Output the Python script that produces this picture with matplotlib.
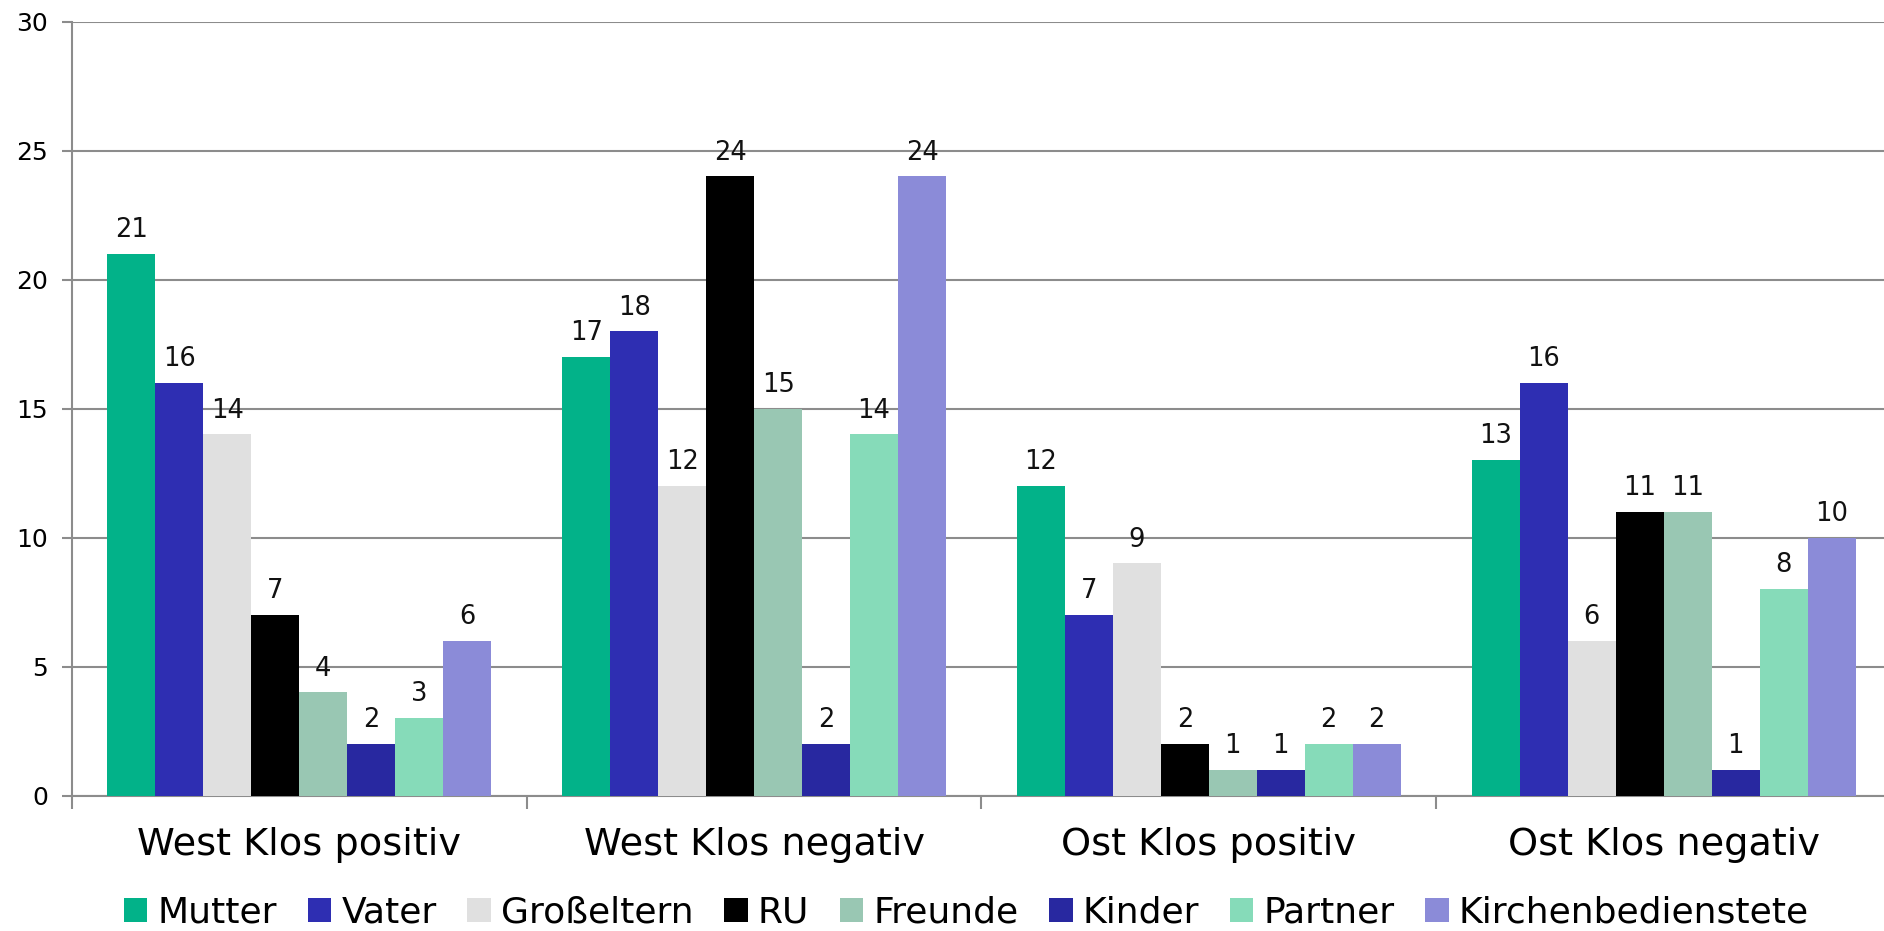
import numpy as np
import matplotlib.pyplot as plt
from matplotlib.patches import Patch

# data
categories = ['West Klos positiv', 'West Klos negativ', 'Ost Klos positiv', 'Ost Klos negativ']
series = ['Mutter', 'Vater', 'Großeltern', 'RU', 'Freunde', 'Kinder', 'Partner', 'Kirchenbedienstete']
mutter = [21, 17, 12, 13]
vater = [16, 18, 7, 16]
grosseltern = [14, 12, 9, 6]
ru = [7, 24, 2, 11]
freunde = [4, 15, 1, 11]
kinder = [2, 2, 1, 1]
partner = [3, 14, 2, 8]
kirche = [6, 24, 2, 10]
values = [mutter, vater, grosseltern, ru, freunde, kinder, partner, kirche]
colors = ['#02B289', '#2E2EB2', '#E0E0E0', '#000000', '#99C7B3', '#2828A0', '#86DBB9', '#8B8BD8']

plt.rcParams['font.family'] = ['DejaVu Sans']

fig = plt.figure(figsize=(18.84, 9.31), dpi=100)
ax = fig.add_axes([0.0382, 0.1455, 0.9655, 0.8313])

x = np.arange(len(categories))
w = 0.1055
for i, (vals, c) in enumerate(zip(values, colors)):
    pos = x + (i - 3.5) * w
    ax.bar(pos, vals, width=w, color=c, zorder=3)
    for px, v in zip(pos, vals):
        ax.annotate(str(v), (px, v), xytext=(0, 12), textcoords='offset points',
                    ha='center', va='baseline', fontsize=18.5, color='#111111')

ax.set_ylim(0, 30)
ax.set_xlim(-0.5, 3.5)
ax.set_yticks(range(0, 31, 5))
ax.yaxis.grid(True, color='#8c8c8c', linewidth=1.5, zorder=0)
ax.tick_params(axis='y', length=7, width=1.5, color='#8c8c8c', pad=10, labelsize=18)

ax.set_xticks(np.arange(-0.5, 4, 1))
ax.set_xticklabels([])
ax.tick_params(axis='x', which='major', length=9, width=1.5, color='#8c8c8c')
ax.set_xticks(x, minor=True)
ax.set_xticklabels(categories, minor=True)
ax.tick_params(axis='x', which='minor', length=0, pad=23, labelsize=27.5)

for s in ['top', 'right']:
    ax.spines[s].set_visible(False)
for s in ['left', 'bottom']:
    ax.spines[s].set_color('#8c8c8c')
    ax.spines[s].set_linewidth(1.5)
ax.spines['left'].set_bounds(0, 30)

handles = [Patch(facecolor=c, label=n) for n, c in zip(series, colors)]
fig.legend(handles=handles, loc='center', bbox_to_anchor=(0.513, 0.02), ncol=8,
           frameon=False, fontsize=26, handlelength=0.65, handleheight=0.65,
           handletextpad=0.28, columnspacing=0.85, borderpad=0)

fig.savefig('out.png', dpi=100)
